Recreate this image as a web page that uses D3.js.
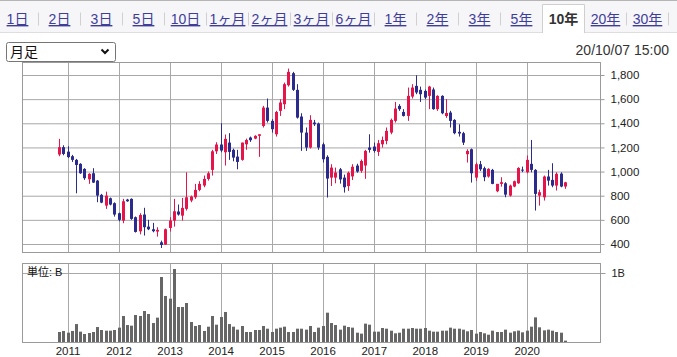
<!DOCTYPE html>
<html><head><meta charset="utf-8">
<script src="https://cdn.jsdelivr.net/npm/d3@7"></script>
<style>
body{margin:0;background:#fff}
svg{display:block}
text{font-family:"Liberation Sans",Arial,"Noto Sans CJK JP",sans-serif}
</style></head>
<body>
<svg id="c" width="677" height="357"></svg>
<script>
// ---- data ----
const tabs = ["1日","2日","3日","5日","10日","1ヶ月","2ヶ月","3ヶ月","6ヶ月","1年","2年","3年","5年","10年","20年","30年"];
const selectedTab = "10年";
const periodLabel = "月足";
const timestamp = "20/10/07 15:00";
const yearLabels = ["2011","2012","2013","2014","2015","2016","2017","2018","2019","2020"];
const priceTicks = [400,600,800,1000,1200,1400,1600,1800];
const volumeTicks = [1];
const volumeUnit = "単位: B";
const firstMonth = new Date(2010, 10, 1);
const lastMonth = new Date(2020, 9, 1);

const open = [1141,1202,1165,1127,1097,1064,1022,936,986,925,
  807,718,779,738,655,594,768,774,622,505,
  644,544,522,503,414,395,533,594,669,635,
  691,760,787,848,884,939,1014,1168,1224,1160,
  1240,1180,1124,1097,1226,1282,1273,1296,1378,1530,
  1420,1309,1503,1558,1715,1815,1677,1456,1323,1199,
  1406,1398,1226,1122,950,950,1019,950,880,960,
  1050,1006,1050,1199,1207,1163,1226,1254,1323,1420,
  1544,1494,1461,1621,1710,1677,1668,1627,1680,1517,
  1627,1460,1489,1428,1329,1318,1144,1185,950,1061,
  1028,959,1014,837,898,903,801,876,903,1016,
  994,1064,1014,801,787,959,931,884,983,876];
const high = [1271,1218,1210,1138,1105,1069,1028,986,1028,930,
  815,834,785,745,660,774,774,778,628,655,
  700,600,575,539,428,528,622,774,727,782,
  994,801,898,920,967,1000,1180,1243,1400,1307,
  1318,1190,1180,1240,1273,1290,1301,1309,1544,1605,
  1434,1503,1599,1737,1853,1826,1724,1483,1365,1467,
  1428,1406,1240,1135,1061,1033,1030,975,1000,1061,
  1065,1100,1180,1309,1240,1262,1290,1365,1439,1577,
  1558,1517,1696,1724,1798,1704,1680,1710,1696,1632,
  1632,1600,1503,1434,1392,1329,1185,1191,1075,1088,
  1041,1028,1022,898,953,912,892,925,1036,1041,
  1133,1262,1020,850,967,1014,1069,994,994,915];
const low = [1127,1135,1112,1080,820,981,931,898,905,746,
  738,691,720,627,588,572,750,600,495,480,
  470,515,497,461,367,392,503,544,635,594,
  677,746,774,837,870,925,967,1146,1160,1050,
  1097,1085,1019,1090,1180,1246,1268,1122,1365,1406,
  1323,1290,1461,1517,1704,1668,1439,1171,1171,1191,
  1378,1180,1075,785,881,903,900,826,840,930,
  990,990,940,1157,1157,1130,1199,1226,1309,1406,
  1503,1456,1420,1605,1641,1577,1599,1517,1512,1503,
  1475,1445,1365,1309,1290,1220,1075,909,923,1005,
  920,950,895,829,875,787,793,870,898,995,
  986,994,677,718,760,884,870,843,870,857];
const close = [1202,1146,1120,1097,1055,986,945,981,909,801,
  743,801,727,644,600,754,754,608,500,640,
  539,522,506,517,392,522,594,671,644,699,
  787,793,848,898,939,986,1168,1224,1174,1271,
  1163,1116,1080,1240,1262,1260,1296,1309,1530,1420,
  1351,1494,1572,1724,1826,1677,1447,1323,1199,1428,
  1392,1199,1102,942,1033,992,935,870,990,1040,
  1000,1088,1171,1180,1171,1235,1262,1337,1428,1522,
  1517,1461,1627,1696,1655,1641,1613,1704,1517,1627,
  1483,1485,1420,1318,1315,1240,1171,986,1061,1019,
  953,1022,898,898,912,809,884,920,1030,1008,
  1097,1014,815,829,959,925,884,981,876,911];
const volume = [0.145,0.16,0.135,0.16,0.26,0.15,0.116,0.13,0.145,0.217,
  0.174,0.164,0.164,0.174,0.208,0.377,0.246,0.237,0.391,0.377,
  0.449,0.406,0.275,0.353,0.942,0.667,0.628,1.058,0.507,0.507,
  0.565,0.29,0.232,0.246,0.16,0.222,0.377,0.251,0.362,0.435,
  0.26,0.222,0.179,0.232,0.145,0.145,0.174,0.174,0.232,0.193,
  0.145,0.193,0.208,0.222,0.145,0.145,0.193,0.193,0.179,0.232,
  0.145,0.208,0.232,0.425,0.275,0.246,0.179,0.237,0.217,0.208,
  0.135,0.121,0.266,0.251,0.15,0.15,0.203,0.193,0.164,0.126,
  0.135,0.193,0.193,0.203,0.193,0.193,0.203,0.164,0.15,0.15,
  0.164,0.164,0.208,0.193,0.193,0.179,0.155,0.174,0.121,0.145,
  0.126,0.106,0.164,0.145,0.145,0.179,0.135,0.155,0.165,0.14,
  0.164,0.222,0.357,0.213,0.169,0.179,0.164,0.145,0.135,0.02];

// ---- drawing ----
const UP = "#e5144a", DOWN = "#2b2b8e", GRID = "#a8a8a8", BOX = "#9a9a9a";
const svg = d3.select("#c");
const months = d3.timeMonth.range(firstMonth, d3.timeMonth.offset(lastMonth, 1));
const data = months.map((m, i) => ({m, o: open[i], h: high[i], l: low[i], c: close[i], v: volume[i]}));

// tab bar
svg.append("rect").attr("x", 0).attr("y", 0).attr("width", 677).attr("height", 32.5).attr("fill", "#f6f6f8");
svg.append("line").attr("x1", 0).attr("x2", 677).attr("y1", 0.5).attr("y2", 0.5).attr("stroke", "#b5b5b5");
svg.append("line").attr("x1", 0).attr("x2", 677).attr("y1", 32.5).attr("y2", 32.5).attr("stroke", "#dedede");
const tabX = d3.scaleBand().domain(tabs).range([-3.5, 668.5]);
const selX = tabX(selectedTab), bw = tabX.bandwidth();
svg.append("rect").attr("x", selX).attr("y", 4.5).attr("width", bw).attr("height", 29).attr("fill", "#fff");
svg.append("path").attr("d", `M${selX},33V4.5H${selX + bw}V33`).attr("fill", "none").attr("stroke", "#cfcfcf");
tabs.forEach((t, i) => {
  const isSel = t === selectedTab;
  const next = tabs[i + 1];
  if (!isSel && next !== selectedTab) {
    svg.append("line").attr("x1", tabX(t) + bw).attr("x2", tabX(t) + bw).attr("y1", 12.5).attr("y2", 25.5).attr("stroke", "#d0d0d0");
  }
  svg.append("text").attr("x", tabX(t) + bw / 2).attr("y", 24).attr("text-anchor", "middle")
    .attr("font-size", 14).attr("fill", isSel ? "#333" : "#3e3e98").attr("font-weight", isSel ? "bold" : "normal")
    .style("text-decoration", isSel ? "none" : "underline").text(t);
});

// dropdown
svg.append("rect").attr("x", 6.5).attr("y", 42.5).attr("width", 109).attr("height", 19).attr("rx", 2)
  .attr("fill", "#fff").attr("stroke", "#767676");
svg.append("text").attr("x", 10).attr("y", 57).attr("font-size", 14).attr("fill", "#111").text(periodLabel);
svg.append("path").attr("d", "M101.5,49.5L105,53L108.5,49.5").attr("fill", "none").attr("stroke", "#111").attr("stroke-width", 2);
svg.append("text").attr("x", 669).attr("y", 55).attr("text-anchor", "end").attr("font-size", 14).attr("fill", "#333").text(timestamp);

// scales
const x = d3.scaleTime().domain([firstMonth, lastMonth]).range([59, 565]);
const y = d3.scaleLinear().domain([400, 1800]).range([244, 75]);
const yv = d3.scaleLinear().domain([0, 1]).range([342, 273]);
const yearDates = yearLabels.map(s => new Date(+s, 0, 1));
const L = 22.5, R = 600.5, PT = 62.5, PB = 252.5, VT = 263.5, VB = 342.5;
const cx = d => Math.round(x(d)) + 0.5;

// price panel grid
const pg = svg.append("g");
pg.selectAll(".hg").data(priceTicks).join("line").attr("x1", L).attr("x2", R)
  .attr("y1", d => y(d) + 0.5).attr("y2", d => y(d) + 0.5).attr("stroke", GRID);
pg.selectAll(".vg").data(yearDates).join("line").attr("x1", d => cx(d)).attr("x2", d => cx(d))
  .attr("y1", PT).attr("y2", PB).attr("stroke", GRID);
pg.append("rect").attr("x", L).attr("y", PT).attr("width", R - L).attr("height", PB - PT).attr("fill", "none").attr("stroke", BOX);

// volume panel grid
const vg = svg.append("g");
vg.selectAll(".hg").data(volumeTicks).join("line").attr("x1", L).attr("x2", R)
  .attr("y1", d => yv(d) + 0.5).attr("y2", d => yv(d) + 0.5).attr("stroke", GRID);
vg.selectAll(".vg").data(yearDates).join("line").attr("x1", d => cx(d)).attr("x2", d => cx(d))
  .attr("y1", VT).attr("y2", VB).attr("stroke", GRID);
vg.append("rect").attr("x", L).attr("y", VT).attr("width", R - L).attr("height", VB - VT).attr("fill", "none").attr("stroke", BOX);

// candles
const cg = svg.append("g");
cg.selectAll("line.w").data(data).join("line").attr("class", "w")
  .attr("x1", d => cx(d.m)).attr("x2", d => cx(d.m)).attr("y1", d => y(d.h)).attr("y2", d => y(d.l))
  .attr("stroke", d => d.c >= d.o ? UP : DOWN).attr("stroke-width", 1);
cg.selectAll("rect.b").data(data).join("rect").attr("class", "b")
  .attr("x", d => cx(d.m) - 1.5).attr("width", 3)
  .attr("y", d => y(Math.max(d.o, d.c)))
  .attr("height", d => Math.max(1, Math.abs(y(d.o) - y(d.c))))
  .attr("fill", d => d.c >= d.o ? UP : DOWN);

// volume bars
svg.append("g").selectAll("rect").data(data).join("rect")
  .attr("x", d => cx(d.m) - 1.5).attr("width", 3)
  .attr("y", d => yv(d.v)).attr("height", d => yv(0) - yv(d.v)).attr("fill", "#666");

// axes
const fontFam = '"Liberation Sans",Arial,sans-serif';
svg.append("g").attr("transform", `translate(${R},0)`)
  .call(d3.axisRight(y).tickValues(priceTicks).tickSize(4).tickSizeOuter(0).tickPadding(6).tickFormat(d3.format(",")))
  .call(g => g.select(".domain").remove())
  .call(g => g.selectAll("line").attr("stroke", BOX))
  .call(g => g.selectAll("text").attr("font-size", 11.5).attr("fill", "#222").attr("font-family", fontFam));
svg.append("g").attr("transform", `translate(${R},0)`)
  .call(d3.axisRight(yv).tickValues(volumeTicks).tickSize(5).tickPadding(6).tickFormat(() => "1B"))
  .call(g => g.select(".domain").remove())
  .call(g => g.selectAll("line").attr("stroke", BOX))
  .call(g => g.selectAll("text").attr("font-size", 11).attr("fill", "#222").attr("font-family", fontFam));
svg.append("g").attr("transform", `translate(0,${VB - 0.5})`)
  .call(d3.axisBottom(x).tickValues(yearDates).tickSize(0).tickPadding(4).tickFormat((d, i) => yearLabels[i]))
  .call(g => g.select(".domain").remove())
  .call(g => g.selectAll("text").attr("font-size", 11.5).attr("fill", "#222").attr("font-family", fontFam)
    .attr("dy", null).attr("y", 12.5));

svg.append("text").attr("x", 27).attr("y", 275.5).attr("font-size", 11).attr("fill", "#111").text(volumeUnit);
</script>
</body></html>
